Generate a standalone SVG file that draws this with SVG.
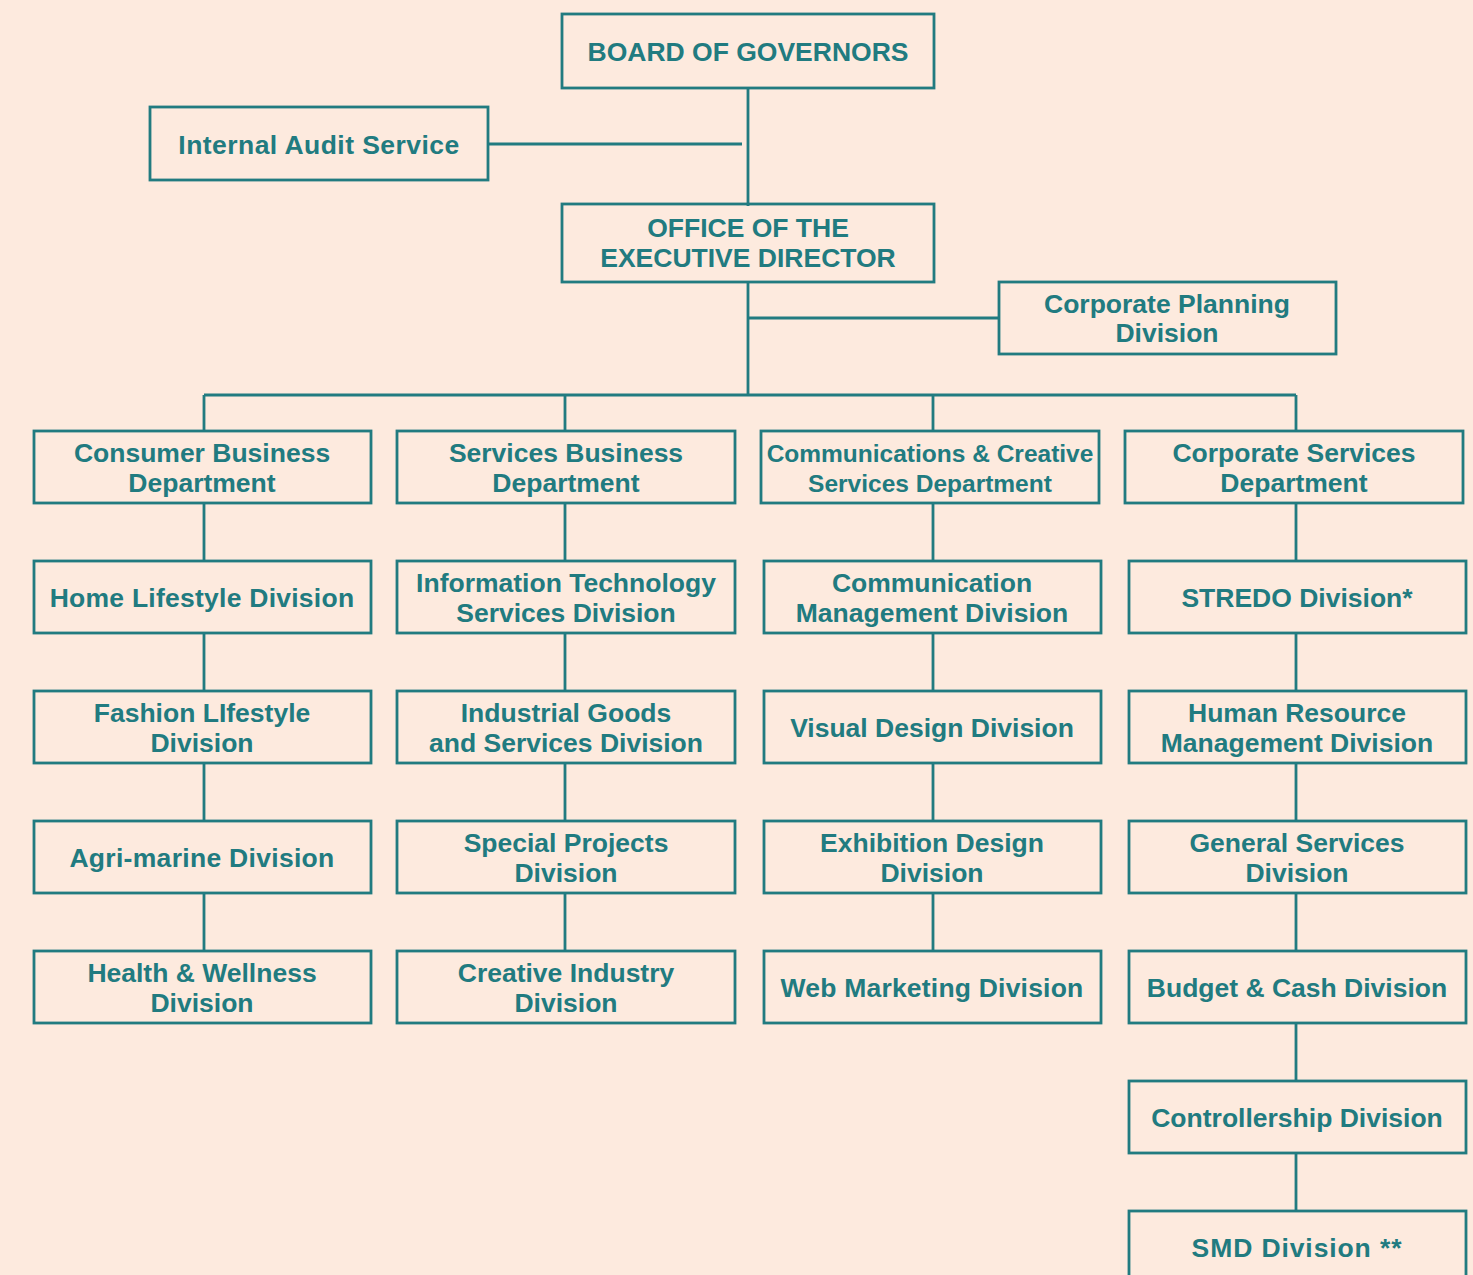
<svg xmlns="http://www.w3.org/2000/svg" width="1473" height="1275" viewBox="0 0 1473 1275">
<style>
.b{fill:none;stroke:#217B80;stroke-width:2.8}
.c{fill:none;stroke:#217B80;stroke-width:2.8}
text{font-family:"Liberation Sans",Arial,Helvetica,sans-serif;font-weight:bold;font-size:26.5px;fill:#217B80;text-anchor:middle}
.s{font-size:24.5px}
</style>
<rect width="1473" height="1275" fill="#FDEADE"/>
<g id="connectors">
<path class="c" d="M748 88V206M488 144H742M748 282V395M748 318H999M204 395H1296M204 395V431M565 395V431M933 395V431M1296 395V431"/>
<path class="c" d="M204 503V561M204 633V691M204 763V821M204 893V951"/>
<path class="c" d="M565 503V561M565 633V691M565 763V821M565 893V951"/>
<path class="c" d="M933 503V561M933 633V691M933 763V821M933 893V951"/>
<path class="c" d="M1296 503V561M1296 633V691M1296 763V821M1296 893V951M1296 1023V1081M1296 1153V1211"/>
</g>
<g id="board"><rect class="b" x="562" y="14" width="372" height="74"/><text x="748" y="61">BOARD OF GOVERNORS</text></g>
<g id="audit"><rect class="b" x="150" y="107" width="338" height="73"/><text x="319" y="154" letter-spacing="0.45">Internal Audit Service</text></g>
<g id="oed"><rect class="b" x="562" y="204" width="372" height="78"/><text x="748" y="237">OFFICE OF THE</text><text x="748" y="267">EXECUTIVE DIRECTOR</text></g>
<g id="planning"><rect class="b" x="999" y="282" width="337" height="72"/><text x="1167" y="313">Corporate Planning</text><text x="1167" y="342">Division</text></g>

<g id="consumer"><rect class="b" x="34" y="431" width="337" height="72"/><text x="202" y="462">Consumer Business</text><text x="202" y="492">Department</text></g>
<g id="services"><rect class="b" x="397" y="431" width="338" height="72"/><text x="566" y="462">Services Business</text><text x="566" y="492">Department</text></g>
<g id="comms"><rect class="b" x="761" y="431" width="338" height="72"/><text class="s" x="930" y="462">Communications &amp; Creative</text><text class="s" x="930" y="492">Services Department</text></g>
<g id="corpserv"><rect class="b" x="1125" y="431" width="338" height="72"/><text x="1294" y="462">Corporate Services</text><text x="1294" y="492">Department</text></g>

<g id="home"><rect class="b" x="34" y="561" width="337" height="72"/><text x="202" y="607" letter-spacing="0.25">Home Lifestyle Division</text></g>
<g id="fashion"><rect class="b" x="34" y="691" width="337" height="72"/><text x="202" y="722">Fashion LIfestyle</text><text x="202" y="752">Division</text></g>
<g id="agri"><rect class="b" x="34" y="821" width="337" height="72"/><text x="202" y="867" letter-spacing="0.3">Agri-marine Division</text></g>
<g id="health"><rect class="b" x="34" y="951" width="337" height="72"/><text x="202" y="982">Health &amp; Wellness</text><text x="202" y="1012">Division</text></g>

<g id="it"><rect class="b" x="397" y="561" width="338" height="72"/><text x="566" y="592">Information Technology</text><text x="566" y="622">Services Division</text></g>
<g id="industrial"><rect class="b" x="397" y="691" width="338" height="72"/><text x="566" y="722">Industrial Goods</text><text x="566" y="752">and Services Division</text></g>
<g id="special"><rect class="b" x="397" y="821" width="338" height="72"/><text x="566" y="852">Special Projects</text><text x="566" y="882">Division</text></g>
<g id="creative"><rect class="b" x="397" y="951" width="338" height="72"/><text x="566" y="982">Creative Industry</text><text x="566" y="1012">Division</text></g>

<g id="commmgmt"><rect class="b" x="764" y="561" width="337" height="72"/><text x="932" y="592">Communication</text><text x="932" y="622">Management Division</text></g>
<g id="visual"><rect class="b" x="764" y="691" width="337" height="72"/><text x="932" y="737">Visual Design Division</text></g>
<g id="exhibition"><rect class="b" x="764" y="821" width="337" height="72"/><text x="932" y="852">Exhibition Design</text><text x="932" y="882">Division</text></g>
<g id="web"><rect class="b" x="764" y="951" width="337" height="72"/><text x="932" y="997" letter-spacing="0.2">Web Marketing Division</text></g>

<g id="stredo"><rect class="b" x="1129" y="561" width="337" height="72"/><text x="1297" y="607">STREDO Division*</text></g>
<g id="hr"><rect class="b" x="1129" y="691" width="337" height="72"/><text x="1297" y="722">Human Resource</text><text x="1297" y="752">Management Division</text></g>
<g id="general"><rect class="b" x="1129" y="821" width="337" height="72"/><text x="1297" y="852">General Services</text><text x="1297" y="882">Division</text></g>
<g id="budget"><rect class="b" x="1129" y="951" width="337" height="72"/><text x="1297" y="997">Budget &amp; Cash Division</text></g>
<g id="controller"><rect class="b" x="1129" y="1081" width="337" height="72"/><text x="1297" y="1127">Controllership Division</text></g>
<g id="smd"><rect class="b" x="1129" y="1211" width="337" height="72"/><text x="1297" y="1257" letter-spacing="0.9">SMD Division **</text></g>
</svg>
